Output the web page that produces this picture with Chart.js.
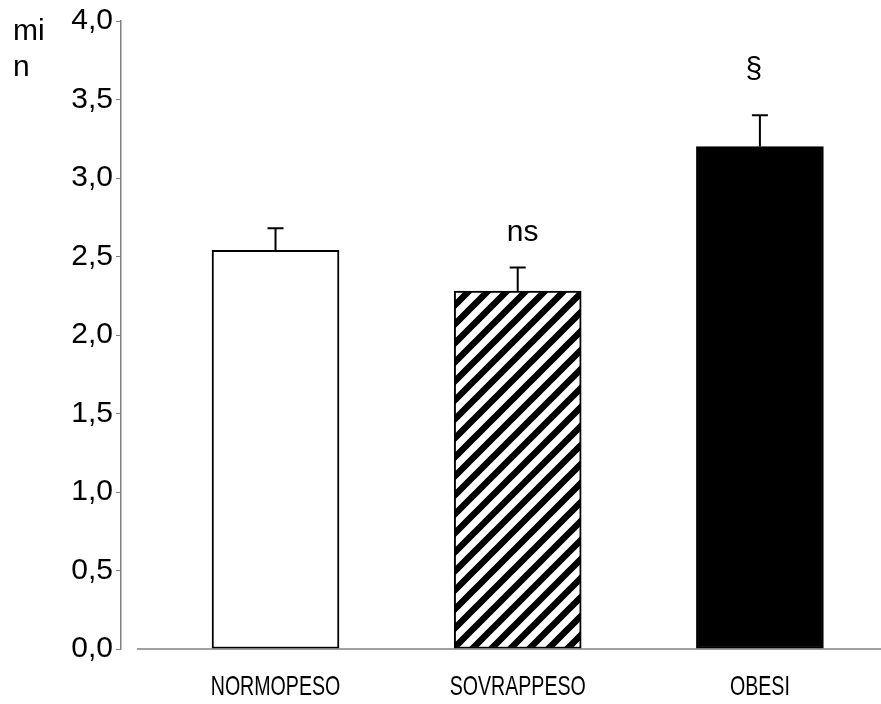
<!DOCTYPE html>
<html>
<head>
<meta charset="utf-8">
<script src="https://cdn.jsdelivr.net/npm/chart.js@4.4.1/dist/chart.umd.min.js"></script>
<style>
  html, body { margin: 0; padding: 0; background: #fff; }
  #wrap { width: 881px; height: 704px; }
</style>
</head>
<body>
<div id="wrap"><canvas id="c" width="881" height="704"></canvas></div>
<script>
// Group names, mean time (min) and the upper error for each group
const categories = ['NORMOPESO', 'SOVRAPPESO', 'OBESI'];
const means = [2.54, 2.28, 3.20];
const errors = [0.14, 0.15, 0.20];
const marks = ['', 'ns', '§'];
const yTicks = [0, 0.5, 1, 1.5, 2, 2.5, 3, 3.5, 4];
const yTickLabels = ['0,0', '0,5', '1,0', '1,5', '2,0', '2,5', '3,0', '3,5', '4,0'];
const unitLabel = ['mi', 'n'];

const canvas = document.getElementById('c');
const ctx = canvas.getContext('2d');

// Diagonal "/" stripes for the middle bar
function stripes() {
  const s = 19;
  const t = document.createElement('canvas');
  t.width = s; t.height = s;
  const g = t.getContext('2d');
  g.fillStyle = '#fff';
  g.fillRect(0, 0, s, s);
  g.strokeStyle = '#000';
  g.lineWidth = 6.5;
  g.beginPath();
  g.moveTo(-s, s); g.lineTo(s, -s);
  g.moveTo(0, s * 2); g.lineTo(s * 2, 0);
  g.moveTo(0, s); g.lineTo(s, 0);
  g.stroke();
  return ctx.createPattern(t, 'repeat');
}

const FONT = "'Liberation Sans', Arial, sans-serif";
Chart.defaults.font.family = FONT;
Chart.defaults.color = '#000';

const AXIS_GREY = '#808080';

// Upper error whiskers with a short cap
const errorBars = {
  id: 'errorBars',
  afterDatasetsDraw(chart) {
    const meta = chart.getDatasetMeta(0);
    const y = chart.scales.y;
    const c = chart.ctx;
    c.save();
    c.strokeStyle = '#000';
    c.lineWidth = 2;
    meta.data.forEach((bar, i) => {
      const top = y.getPixelForValue(means[i] + errors[i]);
      c.beginPath();
      c.moveTo(bar.x, bar.y);
      c.lineTo(bar.x, top);
      c.moveTo(bar.x - 8, top);
      c.lineTo(bar.x + 8, top);
      c.stroke();
    });
    c.restore();
  }
};

// Significance marks, unit label, condensed group names and the baseline
const extras = {
  id: 'extras',
  afterDraw(chart) {
    const c = chart.ctx;
    const x = chart.scales.x;
    const y = chart.scales.y;
    const area = chart.chartArea;
    const meta = chart.getDatasetMeta(0);
    const markShift = [[0, 30], [5, 26], [-6, 37]];
    c.save();
    c.fillStyle = '#000';
    c.font = '30px ' + FONT;
    c.textAlign = 'center';
    c.textBaseline = 'alphabetic';
    meta.data.forEach((bar, i) => {
      if (!marks[i]) return;
      const top = y.getPixelForValue(means[i] + errors[i]);
      c.fillText(marks[i], bar.x + markShift[i][0], top - markShift[i][1]);
    });
    c.textAlign = 'left';
    unitLabel.forEach((t, i) => c.fillText(t, 13, 40 + i * 36));

    // group names in a narrow setting under each bar
    c.font = '28px ' + FONT;
    c.textAlign = 'center';
    categories.forEach((name, i) => {
      const px = x.getPixelForValue(i);
      c.save();
      c.translate(px, area.bottom + 46);
      c.scale(0.70, 1);
      c.fillText(name, 0, 0);
      c.restore();
    });

    // horizontal baseline, detached from the vertical axis
    c.strokeStyle = AXIS_GREY;
    c.lineWidth = 1.5;
    c.beginPath();
    c.moveTo(137, area.bottom);
    c.lineTo(area.right, area.bottom);
    c.stroke();
    c.restore();
  }
};

new Chart(ctx, {
  type: 'bar',
  data: {
    datasets: [{
      data: means.map((v, i) => ({ x: i, y: v })),
      backgroundColor: ['#fff', stripes(), '#000'],
      borderColor: '#000',
      borderWidth: 2,
      borderSkipped: false,
      barThickness: 127
    }]
  },
  options: {
    responsive: false,
    animation: false,
    devicePixelRatio: 1,
    layout: { padding: { top: 19, right: 0, bottom: 0, left: 0 } },
    plugins: { legend: { display: false }, tooltip: { enabled: false } },
    scales: {
      x: {
        type: 'linear',
        offset: false,
        min: -0.638,
        max: 2.5,
        afterBuildTicks(s) { s.ticks = categories.map((_, i) => ({ value: i })); },
        afterFit(s) { s.height = 55; },
        grid: { display: false },
        border: { display: false },
        ticks: { display: false }
      },
      y: {
        min: 0,
        max: 4,
        afterBuildTicks(s) { s.ticks = yTicks.map(v => ({ value: v })); },
        afterFit(s) { s.width = 121; },
        grid: { drawOnChartArea: false, drawTicks: true, tickLength: 5, color: AXIS_GREY, lineWidth: 1 },
        border: { display: true, color: AXIS_GREY, width: 1.5 },
        ticks: {
          padding: 3,
          font: { size: 30 },
          callback: (v, i) => yTickLabels[i]
        }
      }
    }
  },
  plugins: [errorBars, extras]
});
</script>
</body>
</html>
